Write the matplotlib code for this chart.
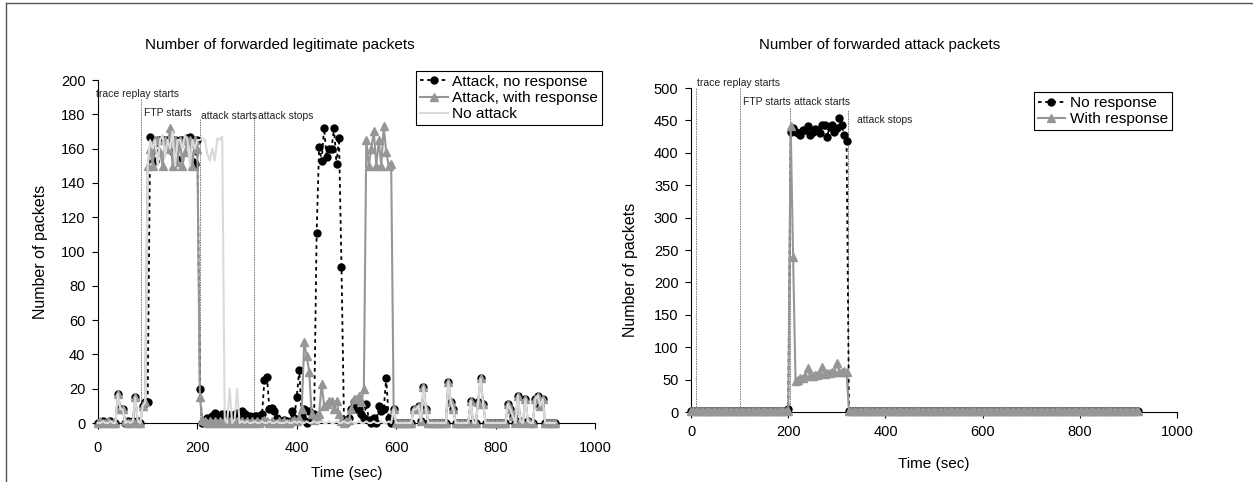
import matplotlib.pyplot as plt
import numpy as np
from matplotlib.lines import Line2D

plt.rcParams['font.family'] = ['Liberation Sans', 'DejaVu Sans']

# one sample every 5 s, 0..920 s
time_s = np.arange(0, 925, 5)

# forwarded legitimate packets per interval
legit_no_response = [
    0, 0, 1, 0, 0, 1, 0, 0, 17, 8,
    8, 0, 1, 0, 1, 15, 1, 0, 10, 12,
    12, 167, 159, 153, 165, 165, 165, 165, 165, 165,
    158, 165, 154, 165, 165, 165, 166, 167, 165, 151,
    165, 20, 0, 2, 3, 2, 4, 6, 3, 4,
    5, 3, 5, 4, 3, 5, 6, 4, 7, 5,
    3, 4, 3, 4, 4, 3, 5, 25, 27, 8,
    9, 7, 3, 1, 0, 2, 1, 0, 7, 3,
    15, 31, 4, 8, 0, 7, 3, 5, 111, 161,
    153, 172, 155, 160, 160, 172, 151, 166, 91, 2,
    0, 3, 8, 12, 8, 8, 5, 3, 11, 2,
    0, 3, 0, 10, 7, 8, 26, 3, 0, 8,
    0, 0, 0, 0, 0, 0, 0, 8, 8, 10,
    1, 21, 8, 0, 0, 0, 0, 0, 0, 0,
    0, 24, 12, 8, 0, 0, 0, 0, 0, 0,
    13, 0, 0, 12, 26, 11, 0, 0, 0, 0,
    0, 0, 0, 0, 0, 11, 8, 4, 0, 16,
    1, 0, 14, 1, 0, 0, 14, 16, 10, 14,
    0, 0, 0, 0, 0,
]
legit_with_response = [
    0, 1, 0, 0, 1, 0, 0, 0, 17, 8,
    8, 1, 0, 0, 1, 15, 0, 0, 10, 12,
    150, 160, 150, 165, 165, 158, 150, 165, 160, 172,
    150, 165, 152, 165, 150, 158, 165, 165, 150, 165,
    160, 15, 2, 1, 0, 1, 0, 1, 0, 1,
    0, 1, 0, 1, 0, 0, 1, 0, 1, 0,
    1, 0, 1, 0, 1, 0, 1, 2, 1, 0,
    1, 0, 0, 1, 0, 1, 0, 0, 1, 2,
    1, 3, 8, 47, 39, 30, 5, 2, 4, 5,
    23, 10, 11, 13, 13, 8, 13, 5, 1, 0,
    1, 2, 8, 14, 14, 16, 12, 20, 165, 150,
    160, 170, 150, 165, 150, 173, 158, 150, 151, 8,
    0, 0, 0, 0, 0, 0, 0, 8, 8, 10,
    1, 21, 8, 0, 0, 0, 0, 0, 0, 0,
    0, 24, 12, 8, 0, 0, 0, 0, 0, 0,
    13, 0, 0, 12, 26, 11, 0, 0, 0, 0,
    0, 0, 0, 0, 0, 11, 8, 4, 0, 16,
    1, 0, 14, 1, 0, 0, 14, 16, 10, 14,
    0, 0, 0, 0, 0,
]
legit_no_attack = [
    0, 0, 1, 0, 0, 1, 0, 0, 17, 8,
    8, 0, 1, 0, 1, 15, 1, 0, 10, 12,
    150, 165, 160, 165, 150, 165, 168, 155, 165, 160,
    170, 150, 165, 165, 160, 168, 165, 150, 165, 160,
    165, 165, 166, 165, 157, 153, 160, 153, 166, 165,
    167, 2, 0, 20, 0, 2, 20, 0, 1, 0,
    1, 0, 0, 1, 0, 0, 1, 0, 0, 1,
    0, 0, 1, 0, 0, 0, 1, 0, 0, 1,
    0, 1, 0, 0, 1, 0, 0, 1, 0, 0,
    1, 0, 0, 1, 0, 0, 1, 0, 0, 1,
    0, 0, 1, 0, 0, 1, 0, 0, 1, 0,
    0, 1, 0, 0, 1, 0, 0, 1, 0, 8,
    0, 0, 0, 0, 0, 0, 0, 8, 8, 10,
    1, 21, 8, 0, 0, 0, 0, 0, 0, 0,
    0, 24, 12, 8, 0, 0, 0, 0, 0, 0,
    13, 0, 0, 12, 26, 11, 0, 0, 0, 0,
    0, 0, 0, 0, 0, 11, 8, 4, 0, 16,
    1, 0, 14, 1, 0, 0, 14, 16, 10, 14,
    0, 0, 0, 0, 0,
]

# forwarded attack packets per interval
attack_no_response = [
    1, 1, 1, 1, 1, 1, 1, 1, 1, 1,
    1, 1, 1, 1, 1, 1, 1, 1, 1, 1,
    1, 1, 1, 1, 1, 1, 1, 1, 1, 1,
    1, 1, 1, 1, 1, 1, 1, 1, 1, 1,
    5, 432, 439, 432, 430, 427, 435, 435, 441, 427,
    432, 437, 435, 430, 443, 443, 424, 440, 443, 432,
    438, 454, 443, 427, 419, 1, 1, 1, 1, 1,
    1, 1, 1, 1, 1, 1, 1, 1, 1, 1,
    1, 1, 1, 1, 1, 1, 1, 1, 1, 1,
    1, 1, 1, 1, 1, 1, 1, 1, 1, 1,
    1, 1, 1, 1, 1, 1, 1, 1, 1, 1,
    1, 1, 1, 1, 1, 1, 1, 1, 1, 1,
    1, 1, 1, 1, 1, 1, 1, 1, 1, 1,
    1, 1, 1, 1, 1, 1, 1, 1, 1, 1,
    1, 1, 1, 1, 1, 1, 1, 1, 1, 1,
    1, 1, 1, 1, 1, 1, 1, 1, 1, 1,
    1, 1, 1, 1, 1, 1, 1, 1, 1, 1,
    1, 1, 1, 1, 1, 1, 1, 1, 1, 1,
    1, 1, 1, 1, 1,
]
attack_with_response = [
    1, 1, 1, 1, 1, 1, 1, 1, 1, 1,
    1, 1, 1, 1, 1, 1, 1, 1, 1, 1,
    1, 1, 1, 1, 1, 1, 1, 1, 1, 1,
    1, 1, 1, 1, 1, 1, 1, 1, 1, 1,
    2, 441, 239, 48, 50, 52, 53, 55, 68, 55,
    56, 57, 57, 58, 70, 59, 60, 60, 61, 62,
    76, 62, 62, 63, 61, 1, 1, 1, 1, 1,
    1, 1, 1, 1, 1, 1, 1, 1, 1, 1,
    1, 1, 1, 1, 1, 1, 1, 1, 1, 1,
    1, 1, 1, 1, 1, 1, 1, 1, 1, 1,
    1, 1, 1, 1, 1, 1, 1, 1, 1, 1,
    1, 1, 1, 1, 1, 1, 1, 1, 1, 1,
    1, 1, 1, 1, 1, 1, 1, 1, 1, 1,
    1, 1, 1, 1, 1, 1, 1, 1, 1, 1,
    1, 1, 1, 1, 1, 1, 1, 1, 1, 1,
    1, 1, 1, 1, 1, 1, 1, 1, 1, 1,
    1, 1, 1, 1, 1, 1, 1, 1, 1, 1,
    1, 1, 1, 1, 1, 1, 1, 1, 1, 1,
    1, 1, 1, 1, 1,
]

event_labels = ['trace replay starts', 'FTP starts', 'attack starts', 'attack stops']
events_legit = [1, 86, 205, 314]
events_attack = [10, 101, 204, 322]

BLACK = 'black'
GRAY = '#969696'
LIGHT = '#dadada'


def style_axes(ax, ymax, ystep, xpad):
    ax.set_xlim(0, 1000)
    ax.set_ylim(0, ymax)
    ax.set_xticks(range(0, 1001, 200))
    ax.set_yticks(np.arange(0, ymax + 1, ystep))
    ax.spines[['top', 'right']].set_visible(False)
    for s in ('left', 'bottom'):
        ax.spines[s].set_linewidth(0.8)
    ax.tick_params(direction='out', length=4, width=0.8, labelsize=10.5, pad=5)
    ax.tick_params(axis='x', pad=xpad)


def mark_events(ax, times, tops, text_pos):
    for x, top, label, (tx, ty) in zip(times, tops, event_labels, text_pos):
        ax.plot([x, x], [0, top], color='#6e6e6e', lw=0.6, ls=(0, (2, 1)), zorder=1)
        ax.text(tx, ty, label, fontsize=7.5, va='center', ha='left', color='#222222')


fig = plt.figure(figsize=(12.53, 4.82), dpi=100)
ax1 = fig.add_axes([0.0782, 0.1224, 0.3966, 0.7116])
ax2 = fig.add_axes([0.5515, 0.1452, 0.3879, 0.6722])

# left: legitimate traffic
mark_events(ax1, events_legit, [192, 189, 177, 180],
            [(-4, 192), (92, 181), (207, 179), (322, 179)])
ax1.plot(time_s, legit_no_response, color=BLACK, lw=1.3, ls=(0, (2, 2)),
         marker='o', ms=5, label='Attack, no response', clip_on=False, zorder=3)
ax1.plot(time_s, legit_with_response, color=GRAY, lw=1.5,
         marker='^', ms=5.5, label='Attack, with response', clip_on=False, zorder=4)
ax1.plot(time_s, legit_no_attack, color=LIGHT, lw=1.5, label='No attack', clip_on=False, zorder=5)
style_axes(ax1, 200, 20, 9)
ax1.set_xlabel('Time (sec)', fontsize=11)
ax1.xaxis.set_label_coords(0.5, -0.125)
ax1.set_ylabel('Number of packets', fontsize=11.5)
ax1.yaxis.set_label_coords(-0.10, 0.5)

# right: attack traffic
mark_events(ax2, events_attack, [500, 502, 470, 466],
            [(13, 508), (107, 478), (212, 478), (342, 450)])
ax2.plot(time_s, attack_no_response, color=BLACK, lw=1.3, ls=(0, (2, 2)),
         marker='o', ms=5, label='No response', clip_on=False, zorder=3)
ax2.plot(time_s, attack_with_response, color=GRAY, lw=1.5,
         marker='^', ms=5.5, label='With response', clip_on=False, zorder=4)
style_axes(ax2, 500, 50, 5)
ax2.set_xlabel('Time (sec)', fontsize=11)
ax2.xaxis.set_label_coords(0.5, -0.14)
ax2.set_ylabel('Number of packets', fontsize=11.5)
ax2.yaxis.set_label_coords(-0.109, 0.44)

fig.text(0.2235, 0.9066, 'Number of forwarded legitimate packets', ha='center', va='center', fontsize=11)
fig.text(0.7023, 0.9066, 'Number of forwarded attack packets', ha='center', va='center', fontsize=10.8)

for ax, anchor in ((ax1, (0.332, 0.853)), (ax2, (0.825, 0.809))):
    leg = ax.legend(loc='upper left', bbox_to_anchor=anchor, bbox_transform=fig.transFigure,
                    fontsize=11.1, fancybox=False, edgecolor='black', framealpha=1,
                    borderpad=0.25, labelspacing=0.15, handlelength=1.8,
                    handletextpad=0.3, borderaxespad=0)
    leg.get_frame().set_linewidth(0.8)

# outer frame (top and left edges only)
fig.add_artist(Line2D([6 / 1253, 1], [1 - 3 / 482] * 2, transform=fig.transFigure, color='#555555', lw=1))
fig.add_artist(Line2D([6 / 1253] * 2, [0, 1 - 3 / 482], transform=fig.transFigure, color='#555555', lw=1))

fig.savefig('out.png', dpi=100)
